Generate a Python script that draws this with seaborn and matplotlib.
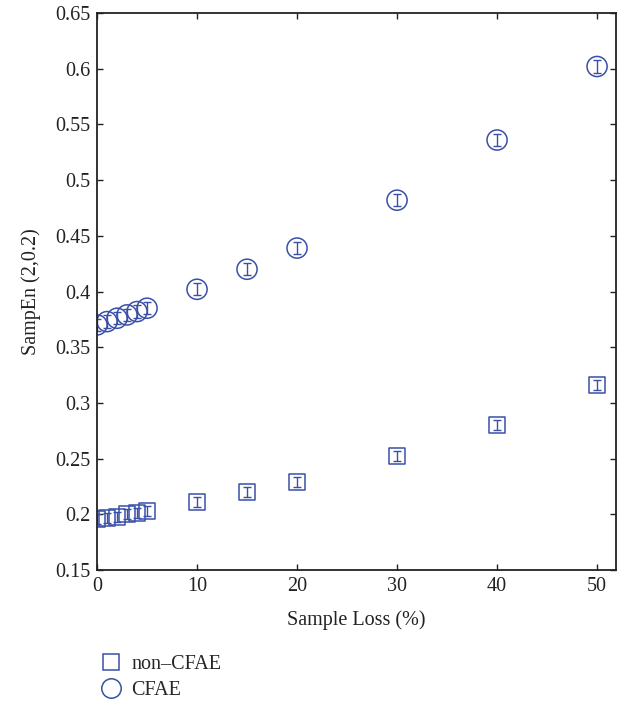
import matplotlib
matplotlib.use("Agg")
import matplotlib.pyplot as plt
from matplotlib.lines import Line2D
import seaborn as sns
import pandas as pd

loss = [0, 1, 2, 3, 4, 5, 10, 15, 20, 30, 40, 50]
cfae = [0.370, 0.373, 0.376, 0.379, 0.382, 0.385, 0.402, 0.420, 0.439, 0.482, 0.536, 0.602]
non_cfae = [0.196, 0.197, 0.198, 0.200, 0.201, 0.203, 0.211, 0.220, 0.229, 0.252, 0.280, 0.316]
cfae_err = [0.0055] * 12
non_err = [0.0045] * 12
groups = ["non\u2013CFAE", "CFAE"]

sns.set_theme(style="ticks")
plt.rcParams['font.family'] = ['Liberation Serif', 'DejaVu Serif']

color = "#3a4fa8"
fig = plt.figure(figsize=(6.28, 7.05), dpi=100)
ax = fig.add_axes([0.1545, 0.1915, 0.8265, 0.79])

df = pd.DataFrame({"loss": loss * 2, "val": non_cfae + cfae,
                   "err": non_err + cfae_err,
                   "grp": [groups[0]] * 12 + [groups[1]] * 12})

markers = {groups[0]: ("s", 11.5), groups[1]: ("o", 14.5)}
for g, sub in df.groupby("grp", sort=False):
    m, ms = markers[g]
    ax.errorbar(sub["loss"], sub["val"], yerr=sub["err"], fmt="none",
                ecolor=color, elinewidth=1.0, capsize=3, capthick=1.0)
    sns.scatterplot(x=sub["loss"], y=sub["val"], marker=m, s=ms ** 2,
                    facecolor="none", edgecolor=color, linewidth=1.1, ax=ax, legend=False)

ax.set_xlim(0, 51.9)
ax.set_ylim(0.15, 0.65)
ax.set_xticks([0, 10, 20, 30, 40, 50])
ax.set_yticks([0.15, 0.2, 0.25, 0.3, 0.35, 0.4, 0.45, 0.5, 0.55, 0.6, 0.65])
ax.set_yticklabels(["0.15", "0.2", "0.25", "0.3", "0.35", "0.4", "0.45", "0.5", "0.55", "0.6", "0.65"])
ax.tick_params(direction="in", top=True, right=True, labelsize=14.5, length=4, width=1,
               colors="#222222", labelcolor="#222222", pad=5)
for s in ax.spines.values():
    s.set_linewidth(1.3)
    s.set_color("#222222")
ax.set_xlabel("Sample Loss (%)", fontsize=14.5, labelpad=10, color="#222222")
ax.set_ylabel("SampEn (2,0.2)", fontsize=14.5, labelpad=10, color="#222222")

handles = [Line2D([], [], marker="s", ls="none", mfc="none", mec=color, ms=11.5, mew=1.1),
           Line2D([], [], marker="o", ls="none", mfc="none", mec=color, ms=14, mew=1.1)]
fig.legend(handles, groups, loc="upper left", bbox_to_anchor=(0.161, 0.071), frameon=False,
           fontsize=14.5, handletextpad=0.5, labelspacing=0.35, handlelength=1.0,
           borderaxespad=0, borderpad=0)
fig.savefig("out.png", dpi=100)
